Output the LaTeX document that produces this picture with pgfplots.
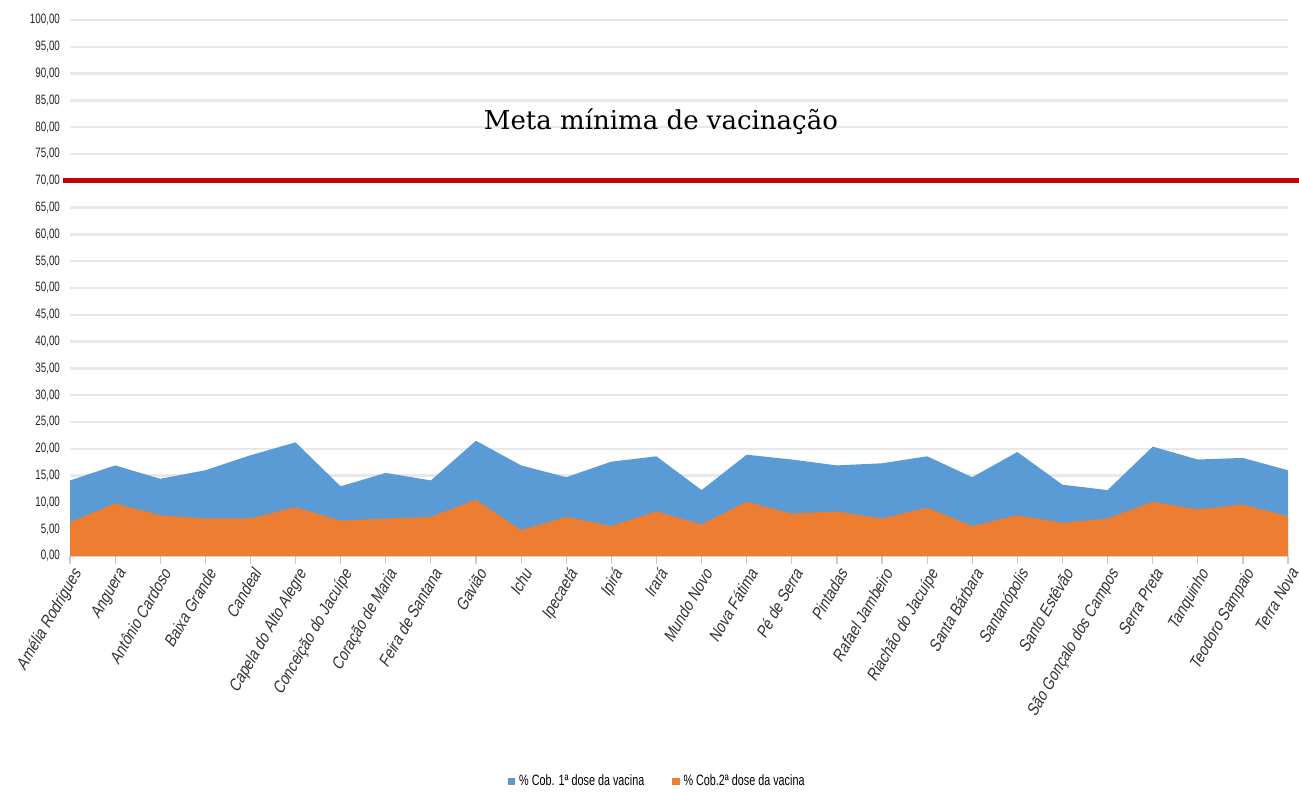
\documentclass[border=0pt]{standalone}
\usepackage{pgfplots}
\pgfplotsset{compat=1.18}
\usepackage{fontspec}
\setmainfont{Liberation Sans}
\newfontfamily\narrowfont[FakeStretch=0.72]{Liberation Sans}
\newfontfamily\labelfont[FakeStretch=0.85, FakeSlant=0.2]{Liberation Sans}
\newfontfamily\metafont{DejaVu Serif}

\definecolor{dose1}{HTML}{5B9BD5}
\definecolor{dose2}{HTML}{ED7D31}
\definecolor{meta}{HTML}{C00000}
\definecolor{gridc}{HTML}{E8E8E8}

\begin{document}
\begin{tikzpicture}
\useasboundingbox (-35pt,-118pt) rectangle (614.5pt,278pt);
\begin{axis}[
    scale only axis,
    width=609pt, height=268pt,
    xmin=0, xmax=27,
    ymin=0, ymax=100,
    ytick={0,5,...,100},
    xtick={0,...,27},
    xticklabels={Amélia Rodrigues, Anguera, Antônio Cardoso, Baixa Grande, Candeal,
        Capela do Alto Alegre, Conceição do Jacuípe, Coração de Maria, Feira de Santana,
        Gavião, Ichu, Ipecaetá, Ipirá, Irará, Mundo Novo, Nova Fátima, Pé de Serra,
        Pintadas, Rafael Jambeiro, Riachão do Jacuípe, Santa Bárbara, Santanópolis,
        Santo Estêvão, São Gonçalo dos Campos, Serra Preta, Tanquinho, Teodoro Sampaio,
        Terra Nova},
    xticklabel style={font=\labelfont\fontsize{8.4}{9}\selectfont, text=black!80, rotate=60, anchor=north east, inner sep=1pt},
    yticklabel style={font=\narrowfont\fontsize{6.8}{8}\selectfont, text=black!85, xshift=2.5pt},
    /pgf/number format/.cd, fixed, fixed zerofill, precision=2, use comma, assume math mode=true,
    /pgfplots/.cd,
    axis line style={draw=none},
    tick pos=bottom,
    ytick style={draw=none},
    xtick style={gridc!70!gray, line width=0.6pt},
    tick align=outside,
    major tick length=4pt,
    ymajorgrids,
    major grid style={gridc, line width=1.2pt},
    clip=false,
    legend columns=2,
    legend style={at={(0.483,-0.42)}, anchor=center, draw=none,
        font=\narrowfont\fontsize{7.5}{8}\selectfont,
        /tikz/every even column/.append style={column sep=12pt}},
    legend image code/.code={\fill[#1] (0pt,-1.8pt) rectangle (3.6pt,1.8pt);},
]
\addplot[fill=dose1, draw=none] coordinates {
(0,14.1) (1,16.9) (2,14.4) (3,16.0) (4,18.8) (5,21.2) (6,13.0) (7,15.5)
(8,14.1) (9,21.5) (10,16.9) (11,14.7) (12,17.6) (13,18.6) (14,12.3) (15,18.9)
(16,18.0) (17,16.9) (18,17.3) (19,18.6) (20,14.7) (21,19.4) (22,13.3) (23,12.3)
(24,20.4) (25,18.0) (26,18.3) (27,16.0)
} \closedcycle;
\addlegendentry{\% Cob. 1ª dose da vacina}
\addplot[fill=dose2, draw=none] coordinates {
(0,6.3) (1,9.8) (2,7.6) (3,7.0) (4,7.0) (5,9.1) (6,6.6) (7,7.0)
(8,7.3) (9,10.5) (10,4.8) (11,7.3) (12,5.6) (13,8.3) (14,5.9) (15,10.1)
(16,7.9) (17,8.3) (18,7.0) (19,9.0) (20,5.6) (21,7.6) (22,6.2) (23,7.0)
(24,10.1) (25,8.7) (26,9.6) (27,7.4)
} \closedcycle;
\addlegendentry{\% Cob.2ª dose da vacina}
\addplot[meta, line width=2.6pt, forget plot] coordinates {(-0.155,70) (27.24,70)};
\node[font=\metafont\fontsize{13}{15}\selectfont] at (axis cs:13.1,81.0) {Meta mínima de vacinação};
\end{axis}
\end{tikzpicture}
\end{document}
